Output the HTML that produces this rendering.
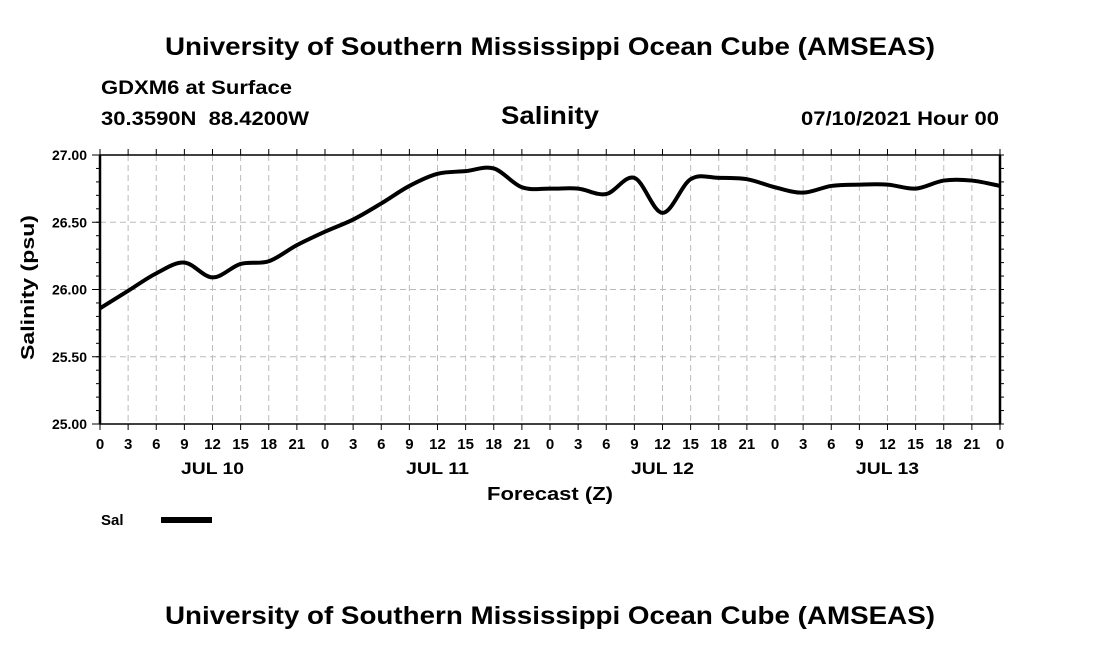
<!DOCTYPE html>
<html><head><meta charset="utf-8"><style>
body{margin:0;background:#fff;}
svg{display:block;font-family:"Liberation Sans",Arial,sans-serif;font-weight:bold;}
</style></head><body>
<svg id="chart" width="1100" height="650" viewBox="0 0 1100 650" xmlns="http://www.w3.org/2000/svg">
<text x="165" y="55" font-size="25" textLength="770" lengthAdjust="spacingAndGlyphs">University of Southern Mississippi Ocean Cube (AMSEAS)</text>
<text x="101" y="94" font-size="19" textLength="191" lengthAdjust="spacingAndGlyphs">GDXM6 at Surface</text>
<text x="101" y="125" font-size="19" textLength="208" lengthAdjust="spacingAndGlyphs" xml:space="preserve">30.3590N  88.4200W</text>
<text x="501" y="124" font-size="25" textLength="98" lengthAdjust="spacingAndGlyphs">Salinity</text>
<text x="801" y="125" font-size="19" textLength="198" lengthAdjust="spacingAndGlyphs">07/10/2021 Hour 00</text>
<g id="grid"></g>
<g id="axes"></g>
<path id="line" fill="none" stroke="#000" stroke-width="4" stroke-linejoin="round"/>
<text transform="translate(34,360) rotate(-90)" font-size="18" textLength="145" lengthAdjust="spacingAndGlyphs">Salinity (psu)</text>
<text x="487" y="500" font-size="18" textLength="126" lengthAdjust="spacingAndGlyphs">Forecast (Z)</text>
<text x="101" y="525" font-size="15">Sal</text>
<rect x="161" y="517" width="51" height="6" fill="#000"/>
<text x="165" y="624" font-size="25" textLength="770" lengthAdjust="spacingAndGlyphs">University of Southern Mississippi Ocean Cube (AMSEAS)</text>
</svg>
<script>
const hours = [0,3,6,9,12,15,18,21,24,27,30,33,36,39,42,45,48,51,54,57,60,63,66,69,72,75,78,81,84,87,90,93,96];
const salinity = [25.86,25.99,26.12,26.20,26.09,26.19,26.21,26.33,26.43,26.52,26.64,26.77,26.86,26.88,26.90,26.76,26.75,26.75,26.71,26.83,26.57,26.82,26.83,26.82,26.76,26.72,26.77,26.78,26.78,26.75,26.81,26.81,26.77];
const yTicks = [25.00,25.50,26.00,26.50,27.00];
const dayLabels = ["JUL 10","JUL 11","JUL 12","JUL 13"];
const NS="http://www.w3.org/2000/svg";
const X0=100,X1=1000,Y0=424,Y1=155;
const xs=h=>X0+(h/96)*(X1-X0);
const ys=v=>Y0-(v-25)/2*(Y0-Y1);
function mk(tag,attrs,parent){const e=document.createElementNS(NS,tag);for(const k in attrs)e.setAttribute(k,attrs[k]);parent.appendChild(e);return e;}
const grid=document.getElementById('grid'),axes=document.getElementById('axes');
hours.forEach((h,i)=>{
  const x=xs(h);
  if(i>0&&i<hours.length-1){const g=mk('line',{x1:x,x2:x,y1:Y1,y2:Y0,stroke:'#bbb','stroke-dasharray':'6,4'},grid);
  
  }
  const t=mk('line',{x1:x,x2:x,y1:Y0,y2:Y0+6,stroke:'#000'},axes);
  
  
  const t2=mk('line',{x1:x,x2:x,y1:Y1,y2:Y1-6,stroke:'#000'},axes);
  
  
  const lb=mk('text',{x:x,y:449,'font-size':15,'text-anchor':'middle'},axes);
  lb.textContent=String(h%24);
  
  
});
dayLabels.forEach((d,i)=>{
  const lb=mk('text',{x:xs(12+24*i),y:474,'font-size':17,'text-anchor':'middle',textLength:63,lengthAdjust:'spacingAndGlyphs'},axes);
  lb.textContent=d;
  
  
});
for(let v=25;v<=27.001;v+=0.1){const y=ys(v);
  mk('line',{x1:X0-4,x2:X0,y1:y,y2:y,stroke:'#000'},axes);
  mk('line',{x1:X1,x2:X1+4,y1:y,y2:y,stroke:'#000'},axes);}
yTicks.forEach(v=>{const y=ys(v);
  if(v>25&&v<27){const g=mk('line',{x1:X0,x2:X1,y1:y,y2:y,stroke:'#bbb','stroke-dasharray':'6,4'},grid);
  
  }
  mk('line',{x1:X0-8,x2:X0,y1:y,y2:y,stroke:'#000'},axes);
  const lb=mk('text',{x:87,y:y+5,'font-size':14,'text-anchor':'end'},axes);
  lb.textContent=v.toFixed(2);
  
  
});
const fr=mk('rect',{x:X0,y:Y1,width:X1-X0,height:Y0-Y1,fill:'none',stroke:'#000','stroke-width':1.5},axes);


mk('line',{x1:X0,x2:X0,y1:Y1,y2:Y0,stroke:'#000','stroke-width':2.5},axes);
mk('line',{x1:X1,x2:X1,y1:Y1,y2:Y0,stroke:'#000','stroke-width':2.5},axes);
const P=hours.map((h,i)=>[xs(h),ys(salinity[i])]);
let d='M'+P[0][0]+','+P[0][1];
for(let i=0;i<P.length-1;i++){const p0=P[Math.max(0,i-1)],p1=P[i],p2=P[i+1],p3=P[Math.min(P.length-1,i+2)];
  d+=' C'+(p1[0]+(p2[0]-p0[0])/6)+','+(p1[1]+(p2[1]-p0[1])/6)+' '+(p2[0]-(p3[0]-p1[0])/6)+','+(p2[1]-(p3[1]-p1[1])/6)+' '+p2[0]+','+p2[1];}
document.getElementById('line').setAttribute('d',d);
</script>
</body></html>
